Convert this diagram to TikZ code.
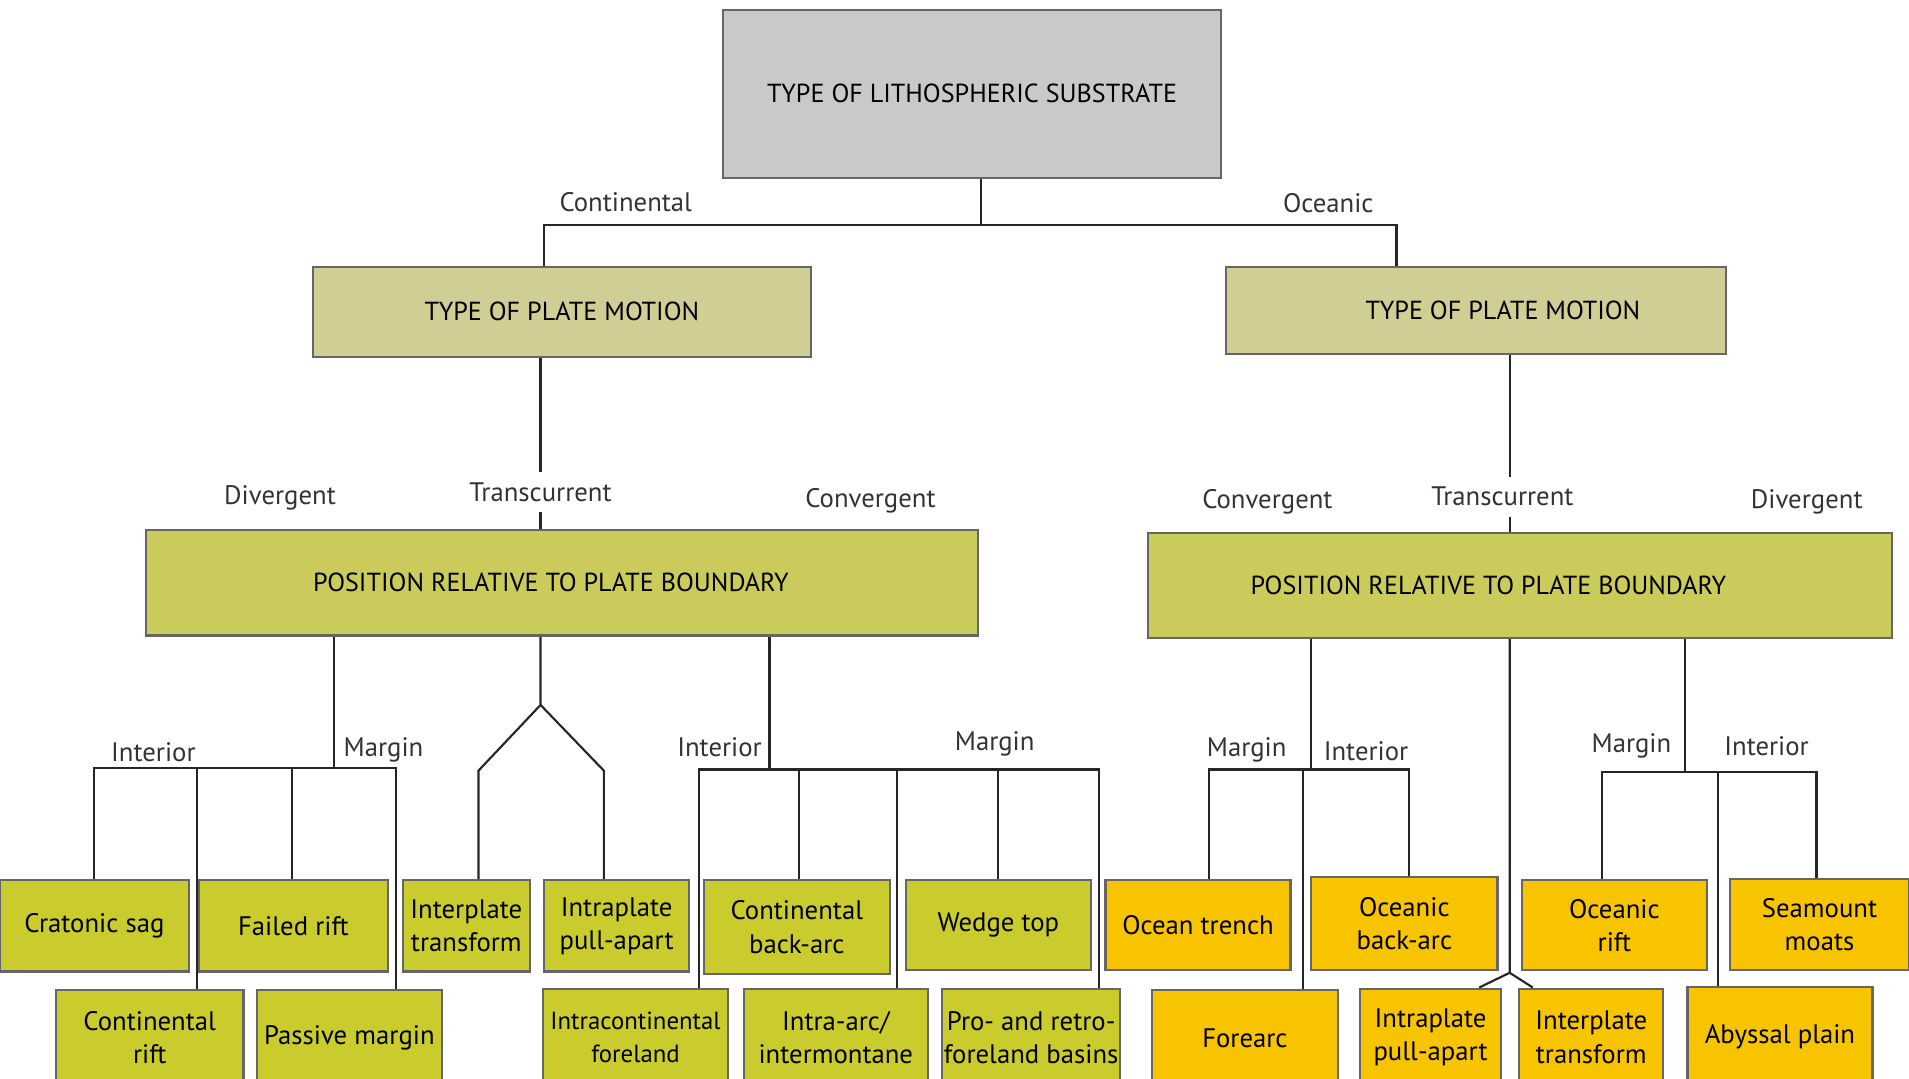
\documentclass[tikz,border=0pt]{standalone}
\usepackage{fontspec}
\setmainfont{PT Sans}
\usepackage{tikz}

\definecolor{subgray}{HTML}{C9C9C9}
\definecolor{motion}{HTML}{D0CD95}
\definecolor{position}{HTML}{CBCB5C}
\definecolor{leafgreen}{HTML}{C9CC2C}
\definecolor{leaforange}{HTML}{F8C400}

\tikzset{l/.style={font=\fontsize{12.5}{12.5}\selectfont, text=black!80}}
\tikzset{h/.style={font=\fontsize{12.2}{12.2}\selectfont}}
\tikzset{box/.style={draw=black!60, line width=1pt, inner sep=0pt, align=center, font=\fontsize{12.5}{15.5}\selectfont}}
\tikzset{sz/.style 2 args={minimum width=#1*0.2mm, minimum height=#2*0.2mm}}
\tikzset{leafg/.style={box, fill=leafgreen}}
\tikzset{leafo/.style={box, fill=leaforange}}
\tikzset{wire/.style={line width=1pt, black!85}}
\tikzset{cut/.style={l, fill=white, inner xsep=1pt, inner ysep=5pt}}

\begin{document}
\begin{tikzpicture}[x=0.2mm, y=-0.2mm]
    \useasboundingbox (0,0) rectangle (1568,886);
    % headers
    \node[box, h, fill=subgray, sz={409}{138}] (sub) at (798.5,77) {TYPE OF LITHOSPHERIC SUBSTRATE};
    \node[box, h, fill=motion, sz={409}{74}] (motL) at (461.5,256) {TYPE OF PLATE MOTION};
    \node[box, h, fill=motion, sz={411}{72}] (motR) at (1212.5,255) {\hspace*{8.8mm}TYPE OF PLATE MOTION};
    \node[box, h, fill=position, sz={683}{87}] (posL) at (461.5,478.5) {POSITION RELATIVE TO PLATE BOUNDARY\hspace*{3.6mm}};
    \node[box, h, fill=position, sz={611}{86}] (posR) at (1248.5,481) {POSITION RELATIVE TO PLATE BOUNDARY\hspace*{10.4mm}};

    % continental leaves
    \node[leafg, sz={155}{75}] (crat) at (77.5,760.5) {Cratonic sag};
    \node[leafg, sz={156}{75}] (fail) at (241,760.5) {Failed rift};
    \node[leafg, sz={154}{79}] (crift) at (123,852.5) {Continental\\rift};
    \node[leafg, sz={152}{79}] (passm) at (287,852.5) {Passive margin};
    \node[leafg, sz={104}{75}] (itrans) at (383,760.5) {Interplate\\transform};
    \node[leafg, sz={119}{75}] (ipull) at (506.5,760.5) {Intraplate\\pull-apart};
    \node[leafg, sz={153}{77}] (cback) at (654.5,761.5) {Continental\\back-arc};
    \node[leafg, sz={152}{74}] (wedge) at (820,760) {Wedge top};
    \node[leafg, sz={152}{80}, font=\fontsize{11.6}{15.5}\selectfont] (icfore) at (522,852) {Intracontinental\\foreland};
    \node[leafg, sz={151}{80}] (iarc) at (686.5,852) {Intra-arc/\\intermontane};
    \node[leafg, sz={146}{80}] (pro) at (847,852) {Pro- and retro-\\foreland basins};

    % oceanic leaves
    \node[leafo, sz={152}{74}] (trench) at (984,760) {Ocean trench};
    \node[leafo, sz={153}{77}] (oback) at (1153.5,758.5) {Oceanic\\back-arc};
    \node[leafo, sz={153}{79}] (forearc) at (1022.5,852.5) {Forearc};
    \node[leafo, sz={116}{80}] (opull) at (1175,852) {Intraplate\\pull-apart};
    \node[leafo, sz={118}{80}] (otrans) at (1307,852) {Interplate\\transform};
    \node[leafo, sz={152}{74}] (orift) at (1326,760) {Oceanic\\rift};
    \node[leafo, sz={147}{75}] (seam) at (1494.5,759.5) {Seamount\\moats};
    \node[leafo, sz={152}{81}] (abyss) at (1462,851.5) {Abyssal plain};

    % junctions
    \coordinate (jsub) at (806,185);
    \coordinate (cont) at (447,185);
    \coordinate (ocea) at (1147,185);
    \coordinate (trL) at (444,404);
    \coordinate (trR) at (1240,408);
    \coordinate (dvL) at (274,631);
    \coordinate (dv1) at (77,631);
    \coordinate (dv2) at (162,631);
    \coordinate (dv3) at (240,631);
    \coordinate (dv4) at (325,631);
    \coordinate (tsL) at (444,579);
    \coordinate (ts1) at (393,633);
    \coordinate (ts2) at (496,633);
    \coordinate (cvL) at (632,632);
    \coordinate (cv1) at (574,632);
    \coordinate (cv2) at (656,632);
    \coordinate (cv3) at (737,632);
    \coordinate (cv4) at (820,632);
    \coordinate (cv5) at (903,632);
    \coordinate (rcR) at (1077,632);
    \coordinate (rc1) at (993,632);
    \coordinate (rc2) at (1070,632);
    \coordinate (rc3) at (1157,632);
    \coordinate (tsR) at (1240,799);
    \coordinate (tr1) at (1215,812);
    \coordinate (tr2) at (1259,812);
    \coordinate (rdR) at (1384,634);
    \coordinate (rd1) at (1316,634);
    \coordinate (rd2) at (1411,634);
    \coordinate (rd3) at (1492,634);

    % connectors
    \draw[wire] (sub.south -| jsub) -- (jsub);
    \draw[wire] (motL.north -| cont) -- (cont) -- (ocea) -- (motR.north -| ocea);
    \draw[wire] (motL.south -| trL) -- (posL.north -| trL);
    \draw[wire] (motR.south -| trR) -- (posR.north -| trR);

    \draw[wire] (posL.south -| dvL) -- (dvL);
    \draw[wire] (crat.north -| dv1) -- (dv1) -- (dv4) -- (passm.north -| dv4);
    \draw[wire] (dv2) -- (crift.north -| dv2);
    \draw[wire] (dv3) -- (fail.north -| dv3);

    \draw[wire] (posL.south -| tsL) -- (tsL) -- (ts1) -- (itrans.north -| ts1);
    \draw[wire] (tsL) -- (ts2) -- (ipull.north -| ts2);

    \draw[wire] (posL.south -| cvL) -- (cvL);
    \draw[wire] (icfore.north -| cv1) -- (cv1) -- (cv5) -- (pro.north -| cv5);
    \draw[wire] (cv2) -- (cback.north -| cv2);
    \draw[wire] (cv3) -- (iarc.north -| cv3);
    \draw[wire] (cv4) -- (wedge.north -| cv4);

    \draw[wire] (posR.south -| rcR) -- (rcR);
    \draw[wire] (trench.north -| rc1) -- (rc1) -- (rc3) -- (oback.north -| rc3);
    \draw[wire] (rc2) -- (forearc.north -| rc2);

    \draw[wire] (posR.south -| tsR) -- (tsR) -- (opull.north -| tr1);
    \draw[wire] (tsR) -- (otrans.north -| tr2);

    \draw[wire] (posR.south -| rdR) -- (rdR);
    \draw[wire] (orift.north -| rd1) -- (rd1) -- (rd3) -- (seam.north -| rd3);
    \draw[wire] (rd2) -- (abyss.north -| rd2);

    % labels
    \node[l] (lcont) at (514,166) {Continental};
    \node[l] (locea) at (1091,167) {Oceanic};
    \node[l] (ldivL) at (230,409) {Divergent};
    \node[cut] (ltrL) at (trL) {Transcurrent};
    \node[l] (lconL) at (715,411) {Convergent};
    \node[l] (lconR) at (1041,412) {Convergent};
    \node[cut] (ltrR) at (1234,408) {Transcurrent};
    \node[l] (ldivR) at (1484,412) {Divergent};
    \node[l] (lint1) at (126,618) {Interior};
    \node[l] (lmar1) at (315,616) {Margin};
    \node[l] (lint2) at (591,614) {Interior};
    \node[l] (lmar2) at (817,611) {Margin};
    \node[l] (lmar3) at (1024,616) {Margin};
    \node[l] (lint3) at (1122,617) {Interior};
    \node[l] (lmar4) at (1340,613) {Margin};
    \node[l] (lint4) at (1451,613) {Interior};
\end{tikzpicture}
\end{document}
